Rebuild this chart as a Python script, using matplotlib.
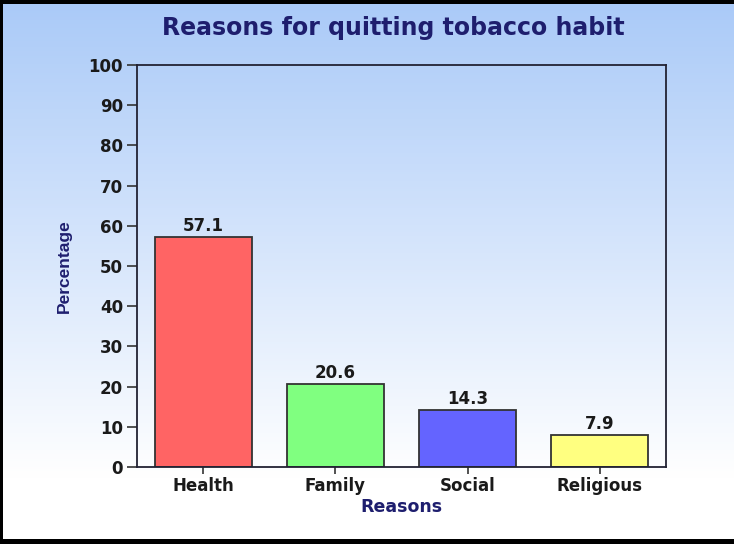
import numpy as np
import matplotlib
matplotlib.use("Agg")
import matplotlib.pyplot as plt
import matplotlib.patches as mpatches
from matplotlib.colors import LinearSegmentedColormap

# Chart data
reasons = ["Health", "Family", "Social", "Religious"]
percentages = [57.1, 20.6, 14.3, 7.9]
bar_colors = ["#FF6464", "#80FF80", "#6464FF", "#FFFF80"]
y_ticks = [0, 10, 20, 30, 40, 50, 60, 70, 80, 90, 100]

navy = "#1E1E6E"
dark = "#1A1A1A"

fig = plt.figure(figsize=(7.34, 5.44), dpi=100)

# Background gradient (light blue at the top fading to white)
bg = fig.add_axes([0, 0, 1, 1], zorder=-10)
grad = np.linspace(0, 1, 544).reshape(-1, 1)
cmap = LinearSegmentedColormap.from_list("bg", [(0.0, "#AACAF8"), (0.88, "#FFFFFF"), (1.0, "#FFFFFF")])
bg.imshow(grad, aspect="auto", cmap=cmap, extent=[0, 1, 0, 1], origin="upper")
bg.axis("off")

# Black frame on top, left and bottom
for (x, y, w, h) in [(0, 1 - 4 / 544, 1, 4 / 544), (0, 0, 3 / 734, 1), (0, 0, 1, 5 / 544)]:
    fig.add_artist(mpatches.Rectangle((x, y), w, h, transform=fig.transFigure,
                                      facecolor="black", edgecolor="none", zorder=5))

ax = fig.add_axes([137 / 734, 1 - 467 / 544, 529 / 734, 402 / 544])
ax.patch.set_alpha(0)

x = np.arange(len(reasons))
bars = ax.bar(x, percentages, width=0.735, color=bar_colors, edgecolor="#333333", linewidth=1.3)

for b, v in zip(bars, percentages):
    ax.text(b.get_x() + b.get_width() / 2, v + 0.5, f"{v}", ha="center", va="bottom",
            fontsize=12, fontweight="bold", color=dark)

ax.set_xlim(-0.5, 3.5)
ax.set_ylim(0, 100)
ax.set_yticks(y_ticks)
ax.set_xticks(x)
ax.set_xticklabels(reasons)

for lbl in ax.get_xticklabels() + ax.get_yticklabels():
    lbl.set_fontweight("bold")
    lbl.set_fontsize(12)
    lbl.set_color(dark)

ax.tick_params(axis="y", length=7, width=1.2, color="#333333", pad=3)
ax.tick_params(axis="x", length=5, width=1.2, color="#333333", pad=2)

for s in ax.spines.values():
    s.set_color("#222233")
    s.set_linewidth(1.3)

ax.set_ylabel("Percentage", family=["Liberation Sans Narrow", "Liberation Sans"],
              fontsize=12.5, fontweight="bold", color=navy, labelpad=12)
ax.set_xlabel("Reasons", fontsize=12.5, fontweight="bold", color=navy, labelpad=2)

fig.text(393 / 734, 1 - 28 / 544, "Reasons for quitting tobacco habit", ha="center", va="center",
         fontsize=17, fontweight="bold", color=navy)

fig.savefig("out.png", dpi=100)
